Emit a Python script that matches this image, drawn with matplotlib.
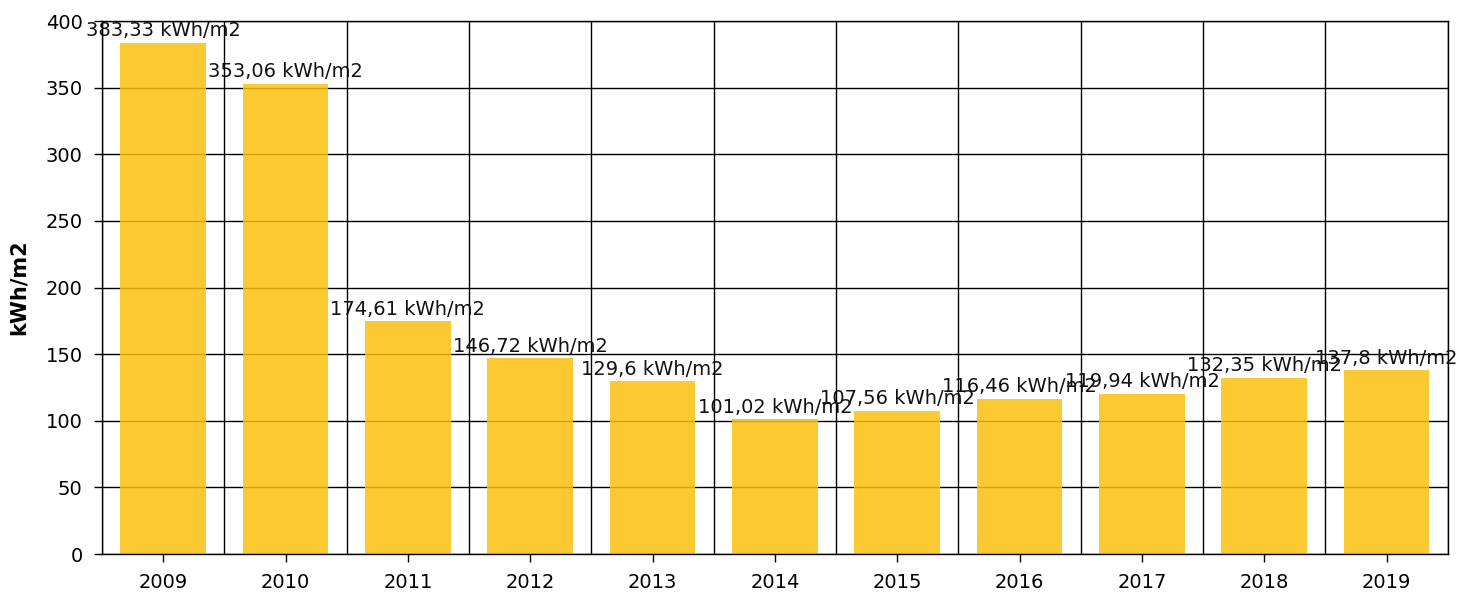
import matplotlib
matplotlib.use("Agg")
import matplotlib.pyplot as plt
import numpy as np

years = ["2009", "2010", "2011", "2012", "2013", "2014", "2015", "2016", "2017", "2018", "2019"]
values = [383.33, 353.06, 174.61, 146.72, 129.6, 101.02, 107.56, 116.46, 119.94, 132.35, 137.8]
labels = ["383,33", "353,06", "174,61", "146,72", "129,6", "101,02", "107,56", "116,46", "119,94", "132,35", "137,8"]

plt.rcParams['font.family'] = ['DejaVu Sans']
fig = plt.figure(figsize=(14.58, 5.95), dpi=100)
ax = fig.add_axes([0.07, 0.0689, 0.923, 0.8958])

x = np.arange(len(years))
ax.set_axisbelow(True)
ax.bar(x, values, width=0.7, color=(251/255, 193/255, 14/255), alpha=0.85, zorder=2)

for xi, v, lab in zip(x, values, labels):
    ax.annotate(f"{lab} kWh/m2", (xi, v), xytext=(0, 2), textcoords="offset points",
                ha="center", va="bottom", fontsize=14, color="#111111", zorder=3)

ax.set_xlim(-0.5, len(years) - 0.5)
ax.set_ylim(0, 400)
ax.set_yticks(np.arange(0, 401, 50))
ax.set_xticks(x)
ax.set_xticklabels(years)
ax.set_xticks(np.arange(-0.5, len(years), 1.0), minor=True)
ax.grid(axis="y", color="black", linewidth=1.0, zorder=1)
ax.grid(axis="x", which="minor", color="black", linewidth=1.0, zorder=1)
ax.grid(axis="x", which="major", visible=False)
ax.tick_params(axis="x", which="minor", length=0)
ax.tick_params(axis="both", which="major", labelsize=14, color="black", length=6, width=1)
ax.tick_params(axis="x", which="major", pad=8)
ax.tick_params(axis="y", which="major", pad=8)
for s in ax.spines.values():
    s.set_color("black")
    s.set_linewidth(1.0)
ax.set_ylabel("kWh/m2", fontsize=15, fontweight="bold", labelpad=12)

fig.savefig("out.png", dpi=100)
